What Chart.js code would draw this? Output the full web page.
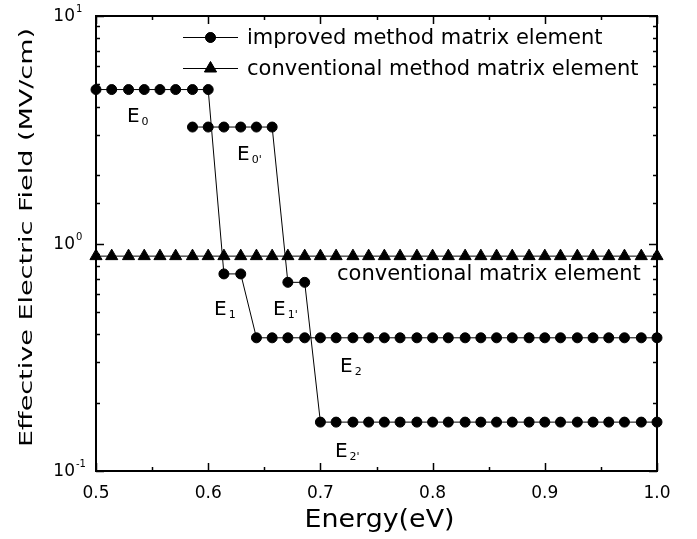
<!DOCTYPE html>
<html>
<head>
<meta charset="utf-8">
<script src="https://cdn.jsdelivr.net/npm/chart.js@4.4.1/dist/chart.umd.min.js"></script>
<style>
  html, body { margin: 0; padding: 0; background: #fff; }
  #wrap { width: 697px; height: 539px; }
</style>
</head>
<body>
<div id="wrap"><canvas id="graficoCampo"></canvas></div>
<script>
// energies (eV) at which the fields were computed
const energyGrid = [0.500, 0.514, 0.529, 0.543, 0.557, 0.571, 0.586, 0.600, 0.614, 0.629,
                    0.643, 0.657, 0.671, 0.686, 0.700, 0.714, 0.729, 0.743, 0.757, 0.771,
                    0.786, 0.800, 0.814, 0.829, 0.843, 0.857, 0.871, 0.886, 0.900, 0.914,
                    0.929, 0.943, 0.957, 0.971, 0.986, 1.000];

// improved method, branch E0 -> E1 -> E2
const fieldImprovedA = [4.75, 4.75, 4.75, 4.75, 4.75, 4.75, 4.75, 4.75, 0.735, 0.735,
                        0.385, 0.385, 0.385, 0.385, 0.385, 0.385, 0.385, 0.385, 0.385, 0.385,
                        0.385, 0.385, 0.385, 0.385, 0.385, 0.385, 0.385, 0.385, 0.385, 0.385,
                        0.385, 0.385, 0.385, 0.385, 0.385, 0.385];

// improved method, branch E0' -> E1' -> E2' (starts at 0.586 eV)
const energyImprovedB = energyGrid.slice(6);
const fieldImprovedB = [3.25, 3.25, 3.25, 3.25, 3.25, 3.25, 0.675, 0.675,
                        0.164, 0.164, 0.164, 0.164, 0.164, 0.164, 0.164, 0.164, 0.164, 0.164,
                        0.164, 0.164, 0.164, 0.164, 0.164, 0.164, 0.164, 0.164, 0.164, 0.164,
                        0.164, 0.164];

// conventional method
const fieldConventional = [0.88, 0.88, 0.88, 0.88, 0.88, 0.88, 0.88, 0.88, 0.88, 0.88,
                           0.88, 0.88, 0.88, 0.88, 0.88, 0.88, 0.88, 0.88, 0.88, 0.88,
                           0.88, 0.88, 0.88, 0.88, 0.88, 0.88, 0.88, 0.88, 0.88, 0.88,
                           0.88, 0.88, 0.88, 0.88, 0.88, 0.88];

const seriesNames = ['improved method matrix element', 'conventional method matrix element'];

const yTickValues = [0.1, 1, 10];
const yTickExponents = ['-1', '0', '1'];
const xTitle = 'Energy(eV)';
const yTitle = 'Effective Electric Field (MV/cm)';

// text notes placed in data coordinates (energy, field)
const notes = [
  { text: 'E', sub: '0',  x: 0.5276, y: 3.42 },
  { text: 'E', sub: "0'", x: 0.6257, y: 2.33 },
  { text: 'E', sub: '1',  x: 0.6052, y: 0.485 },
  { text: 'E', sub: "1'", x: 0.6578, y: 0.485 },
  { text: 'E', sub: '2',  x: 0.7175, y: 0.272 },
  { text: 'E', sub: "2'", x: 0.7130, y: 0.115 },
  { text: 'conventional matrix element', sub: '', x: 0.7148, y: 0.691 }
];

const improvedData = energyGrid.map((e, i) => ({ x: e, y: fieldImprovedA[i] }))
  .concat([{ x: 1.0, y: null }])
  .concat(energyImprovedB.map((e, i) => ({ x: e, y: fieldImprovedB[i] })));
const conventionalData = energyGrid.map((e, i) => ({ x: e, y: fieldConventional[i] }));

Chart.defaults.font.family = '"DejaVu Sans", sans-serif';
Chart.defaults.color = '#000';

function isDecade(v) {
  const l = Math.log10(v);
  return Math.abs(l - Math.round(l)) < 1e-6;
}

function stretchedText(ctx, text, x, y, size, length, angle) {
  ctx.save();
  ctx.font = size + 'px "DejaVu Sans", sans-serif';
  ctx.translate(x, y);
  ctx.rotate(angle);
  const w = ctx.measureText(text).width;
  ctx.scale(length / w, 1);
  ctx.textAlign = 'center';
  ctx.textBaseline = 'alphabetic';
  ctx.fillText(text, 0, 0);
  ctx.restore();
}

const framePlugin = {
  id: 'frame',
  beforeDraw(chart) {
    const ctx = chart.ctx;
    ctx.save();
    ctx.fillStyle = '#fff';
    ctx.fillRect(0, 0, chart.width, chart.height);
    ctx.restore();
  },
  afterDraw(chart) {
    const { ctx, chartArea: a, scales: { x, y } } = chart;
    ctx.save();
    ctx.strokeStyle = '#000';
    ctx.fillStyle = '#000';

    // ticks pointing inward on all four sides
    ctx.lineWidth = 1.5;
    ctx.beginPath();
    x.ticks.forEach(t => {
      const px = Math.round(x.getPixelForValue(t.value)) + 0.5;
      const len = t.label ? 8 : 4;
      ctx.moveTo(px, a.bottom); ctx.lineTo(px, a.bottom - len);
      ctx.moveTo(px, a.top); ctx.lineTo(px, a.top + len);
    });
    y.ticks.forEach(t => {
      const py = Math.round(y.getPixelForValue(t.value)) + 0.5;
      const len = isDecade(t.value) ? 8 : 4;
      ctx.moveTo(a.left, py); ctx.lineTo(a.left + len, py);
      ctx.moveTo(a.right, py); ctx.lineTo(a.right - len, py);
    });
    ctx.stroke();

    ctx.lineWidth = 2;
    ctx.strokeRect(a.left, a.top, a.right - a.left, a.bottom - a.top);

    // y tick labels 10^n
    yTickValues.forEach((v, i) => {
      const py = y.getPixelForValue(v);
      ctx.font = '17px "DejaVu Sans", sans-serif';
      ctx.textAlign = 'right';
      ctx.textBaseline = 'middle';
      ctx.fillText('10', a.left - 21, py + 1);
      ctx.font = '10px "DejaVu Sans", sans-serif';
      ctx.textAlign = 'left';
      ctx.textBaseline = 'alphabetic';
      ctx.fillText(yTickExponents[i], a.left - 20, py - 4);
    });

    // axis titles
    stretchedText(ctx, xTitle, (a.left + a.right) / 2 + 3, 527, 25, 150, 0);
    stretchedText(ctx, yTitle, 32, 237.5, 18.3, 419, -Math.PI / 2);

    // notes
    notes.forEach(n => {
      const px = x.getPixelForValue(n.x);
      const py = y.getPixelForValue(n.y);
      const big = n.sub ? 20 : 21;
      ctx.font = big + 'px "DejaVu Sans", sans-serif';
      ctx.textAlign = 'left';
      ctx.textBaseline = 'alphabetic';
      ctx.fillText(n.text, px, py);
      if (n.sub) {
        const w = ctx.measureText(n.text).width;
        ctx.font = '11px "DejaVu Sans", sans-serif';
        ctx.fillText(n.sub, px + w + 2, py + 3);
      }
    });

    // legend in the upper right of the plot
    const rows = [a.top + 21, a.top + 52];
    chart.data.datasets.forEach((ds, i) => {
      const ly = rows[i];
      const x0 = a.left + 87, x1 = a.left + 142;
      ctx.lineWidth = 1;
      ctx.beginPath();
      ctx.moveTo(x0, ly + 0.5); ctx.lineTo(x1, ly + 0.5);
      ctx.stroke();
      Chart.helpers.drawPoint(ctx, {
        pointStyle: ds.pointStyle,
        radius: ds.pointRadius,
        borderWidth: ds.pointBorderWidth,
        rotation: 0
      }, (x0 + x1) / 2, ly + 0.5);
      ctx.fill();
      ctx.font = '21px "DejaVu Sans", sans-serif';
      ctx.textAlign = 'left';
      ctx.textBaseline = 'alphabetic';
      ctx.fillText(ds.label, a.left + 151, ly + 7);
    });
    ctx.restore();
  }
};

new Chart(document.getElementById('graficoCampo').getContext('2d'), {
  type: 'line',
  data: {
    datasets: [{
      label: seriesNames[0],
      data: improvedData,
      borderColor: '#000',
      backgroundColor: '#000',
      borderWidth: 1,
      pointStyle: 'circle',
      pointRadius: 5,
      pointBorderWidth: 1,
      pointBackgroundColor: '#000',
      pointBorderColor: '#000',
      tension: 0,
      spanGaps: false,
      clip: false
    }, {
      label: seriesNames[1],
      data: conventionalData,
      borderColor: '#000',
      backgroundColor: '#000',
      borderWidth: 1,
      pointStyle: 'triangle',
      pointRadius: 7,
      pointBorderWidth: 1,
      pointBackgroundColor: '#000',
      pointBorderColor: '#000',
      tension: 0,
      clip: false
    }]
  },
  options: {
    responsive: true,
    maintainAspectRatio: false,
    animation: false,
    layout: { padding: { left: 96, right: 40, top: 16, bottom: 0 } },
    plugins: {
      legend: { display: false },
      tooltip: { enabled: false }
    },
    scales: {
      x: {
        type: 'linear',
        min: 0.5,
        max: 1.0,
        grid: { display: false, drawTicks: false },
        border: { display: false },
        ticks: {
          stepSize: 0.05,
          autoSkip: false,
          maxRotation: 0,
          padding: 12,
          font: { size: 17 },
          callback: v => (Math.round(v * 100) % 10 === 0 ? v.toFixed(1) : '')
        },
        afterFit: s => { s.height = 68; }
      },
      y: {
        type: 'logarithmic',
        min: 0.1,
        max: 10,
        grid: { display: false, drawTicks: false },
        border: { display: false },
        ticks: { display: false },
        afterFit: s => { s.width = 0; }
      }
    }
  },
  plugins: [framePlugin]
});
</script>
</body>
</html>
